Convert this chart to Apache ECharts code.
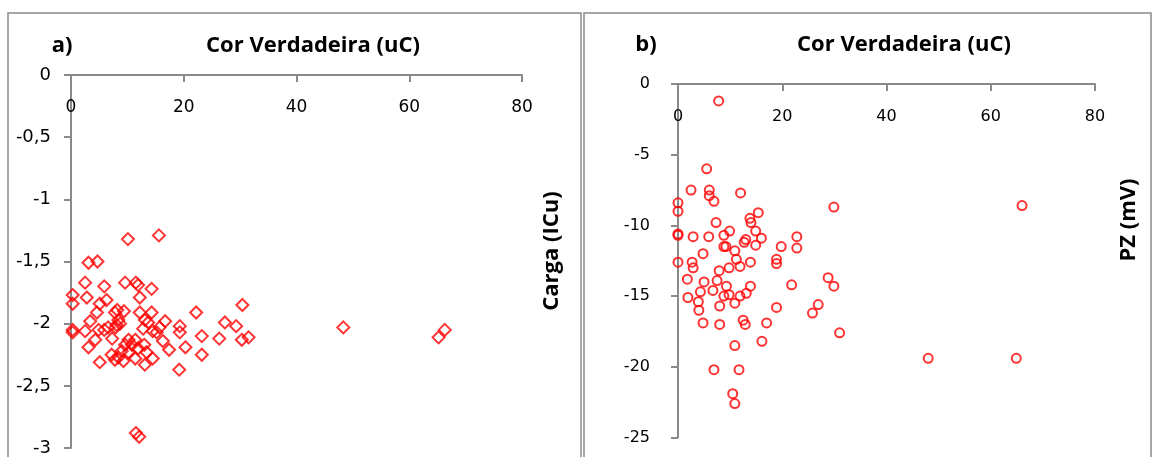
<!DOCTYPE html>
<html>
<head>
<meta charset="utf-8">
<title></title>
<style type="text/css">
  html, body { margin: 0; padding: 0; background: #fff; }
  #graphical { width: 1154px; height: 457px; }
</style>
</head>
<body>
<div id="graphical"></div>
<script src="https://cdn.jsdelivr.net/npm/echarts@6/dist/echarts.min.js"></script>
<script type="text/javascript">
// painel a) - Carga (ICu)
var cargaX = [10.1, 15.6, 3.1, 4.7, 2.5, 5.9, 9.6, 11.5, 11.9, 14.3,
  0.3, 0.3, 2.8, 5.1, 6.3, 4.6, 12.2, 7.8, 8.2, 9.4,
  12.2, 14.3, 3.4, 2.5, 0.3, 0.3, 4.9, 5.9, 6.6, 7.3,
  8.4, 8.1, 13.1, 13.7, 12.8, 14.5, 15.2, 15.7, 16.7, 16.3,
  4.3, 3.1, 7.2, 7.8, 8.4, 9.0, 9.6, 10.2, 10.8, 11.4,
  10.2, 9.3, 11.4, 11.9, 13.0, 13.4, 13.1, 14.5, 5.1, 17.4,
  19.3, 19.3, 20.3, 19.2, 22.2, 23.2, 23.2, 26.3, 27.3, 29.3,
  30.4, 30.3, 31.5, 48.3, 11.5, 12.1, 65.2, 66.3, 7.9, 8.7];
var cargaY = [-1.32, -1.29, -1.51, -1.50, -1.67, -1.70, -1.67, -1.67, -1.69, -1.72,
  -1.77, -1.84, -1.79, -1.84, -1.81, -1.91, -1.79, -1.91, -1.89, -1.90,
  -1.91, -1.91, -1.98, -2.06, -2.05, -2.07, -2.05, -2.05, -2.03, -2.12,
  -1.97, -2.01, -1.97, -1.99, -2.04, -2.06, -2.07, -2.03, -1.98, -2.14,
  -2.13, -2.19, -2.25, -2.29, -2.27, -2.22, -2.17, -2.13, -2.17, -2.13,
  -2.23, -2.30, -2.28, -2.20, -2.17, -2.23, -2.33, -2.28, -2.31, -2.21,
  -2.02, -2.07, -2.19, -2.37, -1.91, -2.10, -2.25, -2.12, -1.99, -2.02,
  -1.85, -2.13, -2.11, -2.03, -2.88, -2.91, -2.11, -2.05, -2.03, -2.00];

// painel b) - PZ (mV)
var pzX = [7.8, 5.5, 2.5, 6.0, 6.0, 6.9, 12.0, 0, 0, 29.9,
  15.4, 13.8, 14.0, 7.3, 0, 0, 2.9, 5.9, 8.8, 9.9,
  9.2, 8.8, 10.9, 13.0, 12.7, 14.9, 14.9, 16.0, 19.8, 22.8,
  22.8, 18.9, 18.9, 4.8, 0, 2.7, 2.9, 11.2, 11.9, 9.8,
  7.9, 13.9, 1.8, 5.0, 7.5, 9.3, 13.9, 21.8, 28.8, 29.9,
  1.9, 3.9, 4.3, 6.7, 8.8, 9.8, 11.9, 13.1, 10.9, 8.0,
  4.0, 18.9, 25.8, 26.9, 31.0, 4.8, 8.0, 12.5, 12.9, 17.0,
  16.1, 10.9, 6.9, 11.7, 10.5, 10.9, 66.0, 48.0, 64.9];
var pzY = [-1.2, -6.0, -7.5, -7.5, -7.9, -8.3, -7.7, -8.4, -9.0, -8.7,
  -9.1, -9.5, -9.8, -9.8, -10.6, -10.7, -10.8, -10.8, -10.7, -10.4,
  -11.5, -11.5, -11.8, -11.0, -11.2, -10.4, -11.4, -10.9, -11.5, -10.8,
  -11.6, -12.4, -12.7, -12.0, -12.6, -12.6, -13.0, -12.4, -12.9, -13.0,
  -13.2, -12.6, -13.8, -14.0, -13.9, -14.3, -14.3, -14.2, -13.7, -14.3,
  -15.1, -15.4, -14.7, -14.6, -15.0, -14.9, -15.0, -14.8, -15.5, -15.7,
  -16.0, -15.8, -16.2, -15.6, -17.6, -16.9, -17.0, -16.7, -17.0, -16.9,
  -18.2, -18.5, -20.2, -20.2, -21.9, -22.6, -8.6, -19.4, -19.4];

var xTicks = [0, 20, 40, 60, 80];

function pares(xs, ys) {
  var out = [];
  for (var i = 0; i < xs.length; i++) {
    out.push([xs[i], ys[i]]);
  }
  return out;
}

var cinza = '#8a8a8a';
var fonte = '"Open Sans", "Noto Sans", sans-serif';
var fonteEixo = '"DejaVu Sans", sans-serif';

function eixoX(idx, gap, tam) {
  return {
    type: 'value',
    gridIndex: idx,
    position: 'top',
    min: xTicks[0],
    max: xTicks[xTicks.length - 1],
    interval: 20,
    axisLine: { show: true, lineStyle: { color: cinza, width: 2 } },
    axisTick: { show: true, inside: true, length: 7, lineStyle: { color: cinza, width: 2 } },
    axisLabel: { inside: true, margin: gap, color: '#000', fontSize: tam, fontFamily: fonteEixo },
    splitLine: { show: false }
  };
}

function eixoY(idx, min, interval, gap, tam) {
  return {
    type: 'value',
    gridIndex: idx,
    min: min,
    max: 0,
    interval: interval,
    axisLine: { show: true, lineStyle: { color: cinza, width: 2 } },
    axisTick: { show: true, length: 7, lineStyle: { color: cinza, width: 2 } },
    axisLabel: {
      color: '#000', fontSize: tam, fontFamily: fonteEixo, margin: gap,
      formatter: function(v) {
        return String(v).replace('.', ',');
      }
    },
    splitLine: { show: false }
  };
}

function texto(txt, x, y, rot) {
  return {
    type: 'text',
    x: x,
    y: y,
    rotation: rot || 0,
    style: {
      text: txt,
      fill: '#000',
      font: 'bold 22px ' + fonte,
      textAlign: 'center',
      textVerticalAlign: 'middle',
      align: 'center',
      verticalAlign: 'middle'
    }
  };
}

var chart = echarts.init(document.getElementById('graphical'));
var option = {
  animation: false,
  grid: [
    { left: 71, top: 75, width: 451, height: 375 },
    { left: 678, top: 84, width: 417, height: 353.5 }
  ],
  xAxis: [eixoX(0, 24, 17), eixoX(1, 25, 16)],
  yAxis: [eixoY(0, -3, 0.5, 20, 18), eixoY(1, -25, 5, 28, 16)],
  graphic: [
    { type: 'rect', shape: { x: 8, y: 13, width: 573, height: 460 },
      style: { fill: 'none', stroke: cinza, lineWidth: 1.5 }, silent: true },
    { type: 'rect', shape: { x: 584, y: 13, width: 567, height: 460 },
      style: { fill: 'none', stroke: cinza, lineWidth: 1.5 }, silent: true },
    texto('a)', 62, 46),
    texto('Cor Verdadeira (uC)', 313, 46),
    texto('Carga (ICu)', 552, 251, Math.PI / 2),
    texto('b)', 646, 45),
    texto('Cor Verdadeira (uC)', 904, 45),
    texto('PZ (mV)', 1129, 220, Math.PI / 2)
  ],
  series: [
    {
      type: 'scatter',
      xAxisIndex: 0,
      yAxisIndex: 0,
      symbol: 'diamond',
      symbolSize: 12,
      itemStyle: { color: 'transparent', borderColor: '#ff0000', borderWidth: 2 },
      emphasis: { disabled: true },
      data: pares(cargaX, cargaY)
    },
    {
      type: 'scatter',
      xAxisIndex: 1,
      yAxisIndex: 1,
      symbol: 'circle',
      symbolSize: 9,
      itemStyle: { color: 'transparent', borderColor: '#ff0000', borderWidth: 2 },
      emphasis: { disabled: true },
      data: pares(pzX, pzY)
    }
  ]
};
chart.setOption(option);
window.onresize = function() {
  chart.resize();
};
</script>
</body>
</html>
